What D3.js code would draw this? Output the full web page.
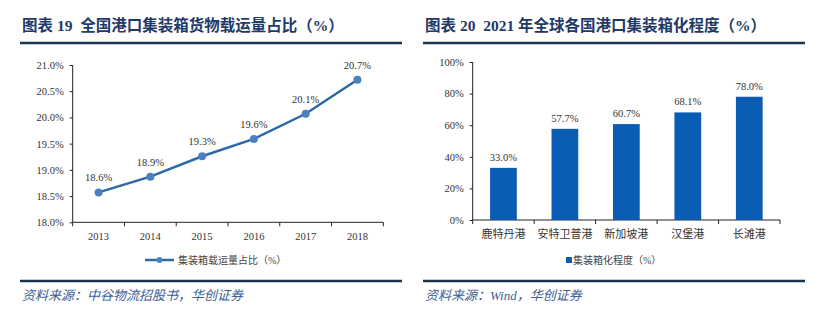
<!DOCTYPE html>
<html>
<head>
<meta charset="utf-8">
<script src="https://cdn.jsdelivr.net/npm/d3@7"></script>
<style>
  html, body { margin: 0; padding: 0; background: #fff; }
  svg { display: block; }
</style>
</head>
<body>
<svg id="chart" width="821" height="325"></svg>
<script>
// ---- Data ----
const lineTitle = "图表 19  全国港口集装箱货物载运量占比（%）";
const years = ["2013", "2014", "2015", "2016", "2017", "2018"];
const shareValues = [18.57, 18.87, 19.26, 19.59, 20.07, 20.72];
const shareLabels = ["18.6%", "18.9%", "19.3%", "19.6%", "20.1%", "20.7%"];
const lineYTicks = [18.0, 18.5, 19.0, 19.5, 20.0, 20.5, 21.0];
const lineLegend = "集装箱载运量占比（%）";
const lineSource = "资料来源：中谷物流招股书，华创证券";

const barTitle = "图表 20  2021 年全球各国港口集装箱化程度（%）";
const ports = ["鹿特丹港", "安特卫普港", "新加坡港", "汉堡港", "长滩港"];
const containerization = [33.0, 57.7, 60.7, 68.1, 78.0];
const barYTicks = [0, 20, 40, 60, 80, 100];
const barLegend = "集装箱化程度（%）";
const barSource = "资料来源：Wind，华创证券";

// ---- Styles ----
const titleColor = "#1F3A68";
const ruleColor = "#1B3550";
const sourceColor = "#3B5E96";
const axisText = "#333";
const serif = "'Liberation Serif', 'Noto Serif CJK SC', 'Noto Sans CJK SC', serif";
const cjk = "'Liberation Serif', 'Noto Sans CJK SC', sans-serif";

const svg = d3.select("#chart");

function header(x0, x1, title) {
  svg.append("text").attr("x", x0 + 2).attr("y", 31)
    .attr("font-family", cjk).attr("font-weight", "bold")
    .attr("font-size", 15.5).attr("fill", titleColor)
    .attr("xml:space", "preserve").text(title);
  svg.append("line").attr("x1", x0).attr("x2", x1).attr("y1", 43).attr("y2", 43)
    .attr("stroke", ruleColor).attr("stroke-width", 2.5);
}
function footer(x0, x1, src) {
  svg.append("line").attr("x1", x0).attr("x2", x1).attr("y1", 281).attr("y2", 281)
    .attr("stroke", ruleColor).attr("stroke-width", 2.5);
  svg.append("text").attr("x", x0 + 2).attr("y", 300)
    .attr("font-family", cjk).attr("font-style", "italic")
    .attr("font-size", 13).attr("fill", sourceColor).text(src);
}

// ---- Left: line chart ----
header(20, 402, lineTitle);
footer(20, 402, lineSource);

const xL = d3.scaleBand().domain(years).range([72.7, 383.3]);
const yL = d3.scaleLinear().domain([18, 21]).range([222.3, 65]);

const gL = svg.append("g");
const yAxL = gL.append("g").attr("transform", "translate(72.7,0)")
  .call(d3.axisLeft(yL).tickValues(lineYTicks).tickSize(3).tickPadding(6)
    .tickFormat(d => d.toFixed(1) + "%"));
const xAxL = gL.append("g").attr("transform", "translate(0,222.3)")
  .call(d3.axisBottom(xL).tickSize(4).tickPadding(6));
// ticks at band edges
xAxL.selectAll(".tick line").remove();
xAxL.selectAll(".edge").data(d3.range(years.length + 1)).enter().append("line")
  .attr("x1", i => xL.range()[0] + i * xL.step()).attr("x2", i => xL.range()[0] + i * xL.step())
  .attr("y1", 0).attr("y2", 4).attr("stroke", "#222");
[yAxL, xAxL].forEach(a => {
  a.select(".domain").attr("stroke", "#222");
  a.selectAll("text").attr("font-family", serif).attr("font-size", 10.5).attr("fill", axisText);
  a.selectAll(".tick line").attr("stroke", "#222");
});
xAxL.select(".domain").attr("d", "M72.7,0H383.3");
yAxL.select(".domain").attr("d", "M0,222.3V65");

const cx = d => xL(d) + xL.bandwidth() / 2;
const lineGen = d3.line().x((d, i) => cx(years[i])).y(d => yL(d));
gL.append("path").datum(shareValues).attr("d", lineGen)
  .attr("fill", "none").attr("stroke", "#2B6AA6").attr("stroke-width", 2.5);
gL.selectAll(".pt").data(shareValues).enter().append("circle")
  .attr("cx", (d, i) => cx(years[i])).attr("cy", d => yL(d)).attr("r", 4)
  .attr("fill", "#4D7FC0");
gL.selectAll(".lbl").data(shareValues).enter().append("text")
  .attr("x", (d, i) => cx(years[i])).attr("y", d => yL(d) - 11)
  .attr("text-anchor", "middle").attr("font-family", serif).attr("font-size", 10.5)
  .attr("fill", axisText).text((d, i) => shareLabels[i]);

// legend
const lgL = svg.append("g").attr("transform", "translate(145,260)");
lgL.append("line").attr("x1", 0).attr("x2", 29).attr("y1", 0).attr("y2", 0)
  .attr("stroke", "#2B6AA6").attr("stroke-width", 2.5);
lgL.append("circle").attr("cx", 14.5).attr("cy", 0).attr("r", 3).attr("fill", "#4D7FC0");
lgL.append("text").attr("x", 33).attr("y", 3.5).attr("font-family", cjk)
  .attr("font-size", 10).attr("fill", "#444").text(lineLegend);

// ---- Right: bar chart ----
header(423, 805, barTitle);
footer(423, 805, barSource);

const xR = d3.scaleBand().domain(ports).range([472.7, 780]).paddingInner(0.565).paddingOuter(0.2825);
const yR = d3.scaleLinear().domain([0, 100]).range([220, 62]);

const gR = svg.append("g");
const yAxR = gR.append("g").attr("transform", "translate(472.7,0)")
  .call(d3.axisLeft(yR).tickValues(barYTicks).tickSize(3).tickPadding(6)
    .tickFormat(d => d + "%"));
const xAxR = gR.append("g").attr("transform", "translate(0,220)")
  .call(d3.axisBottom(xR).tickSize(4).tickPadding(6));
xAxR.selectAll(".tick line").remove();
const stepR = (780 - 472.7) / ports.length;
xAxR.selectAll(".edge").data(d3.range(ports.length + 1)).enter().append("line")
  .attr("x1", i => 472.7 + i * stepR).attr("x2", i => 472.7 + i * stepR)
  .attr("y1", 0).attr("y2", 4).attr("stroke", "#222");
[yAxR, xAxR].forEach(a => {
  a.select(".domain").attr("stroke", "#222");
  a.selectAll("text").attr("font-family", serif).attr("font-size", 10.5).attr("fill", axisText);
  a.selectAll(".tick line").attr("stroke", "#222");
});
xAxR.selectAll("text").attr("font-family", cjk).attr("font-size", 11);
xAxR.select(".domain").attr("d", "M472.7,0H780");
yAxR.select(".domain").attr("d", "M0,220V62");

gR.selectAll(".bar").data(containerization).enter().append("rect")
  .attr("x", (d, i) => xR(ports[i])).attr("width", xR.bandwidth())
  .attr("y", d => yR(d)).attr("height", d => yR(0) - yR(d))
  .attr("fill", "#0B5CB5");
gR.selectAll(".blbl").data(containerization).enter().append("text")
  .attr("x", (d, i) => xR(ports[i]) + xR.bandwidth() / 2).attr("y", d => yR(d) - 7)
  .attr("text-anchor", "middle").attr("font-family", serif).attr("font-size", 10.5)
  .attr("fill", axisText).text(d => d.toFixed(1) + "%");

const lgR = svg.append("g").attr("transform", "translate(566,260)");
lgR.append("rect").attr("x", 0).attr("y", -3).attr("width", 6).attr("height", 6).attr("fill", "#0B5CB5");
lgR.append("text").attr("x", 7).attr("y", 3.5).attr("font-family", cjk)
  .attr("font-size", 10).attr("fill", "#444").text(barLegend);
</script>
</body>
</html>
